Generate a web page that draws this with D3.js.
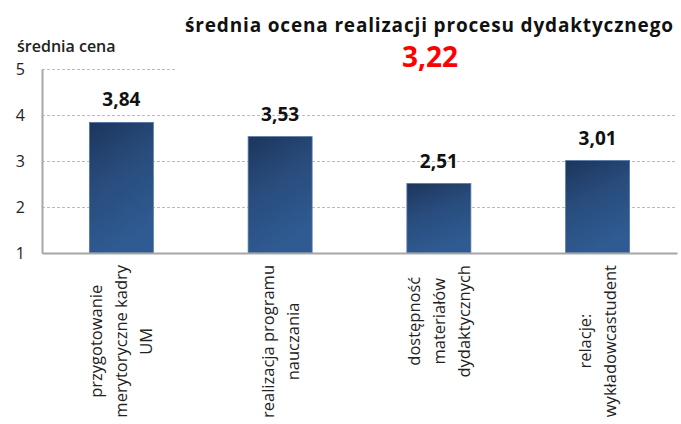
<!DOCTYPE html>
<html>
<head>
<meta charset="utf-8">
<script src="https://cdn.jsdelivr.net/npm/d3@7"></script>
<style>
  body { margin: 0; background: #fff; }
  text { font-family: "Open Sans", sans-serif; }
</style>
</head>
<body>
<svg id="chart" width="681" height="424"></svg>
<script>
// data
var categories = [
  ["przygotowanie", "merytoryczne kadry", "UM"],
  ["realizacja programu", "nauczania"],
  ["dostępność", "materiałów", "dydaktycznych"],
  ["relacje:", "wykładowcastudent"]
];
var values = [3.84, 3.53, 2.51, 3.01];
var yTicks = [1, 2, 3, 4, 5];
var title = "średnia ocena realizacji procesu dydaktycznego";
var overall = "3,22";
var yName = "średnia cena";


var svg = d3.select("#chart");

var mLeft = 42, mRight = 677, mTop = 69, mBottom = 253;

var x = d3.scaleBand()
  .domain(d3.range(values.length))
  .range([mLeft, mRight])
  .paddingInner(0.597)
  .paddingOuter(0.2985);

var y = d3.scaleLinear()
  .domain([1, 5])
  .range([mBottom, mTop]);

var fmt = function(v) { return d3.format(".2f")(v).replace(".", ","); };

/* gradient for bars */
var defs = svg.append("defs");
var grad = defs.append("linearGradient")
  .attr("id", "barGrad")
  .attr("x1", "0").attr("y1", "0")
  .attr("x2", "0.35").attr("y2", "1");
grad.append("stop").attr("offset", "0%").attr("stop-color", "#1c355c");
grad.append("stop").attr("offset", "45%").attr("stop-color", "#284b7b");
grad.append("stop").attr("offset", "100%").attr("stop-color", "#2f5b92");

/* gridlines */
svg.append("g")
  .selectAll("line")
  .data(yTicks.filter(function(d) { return d > 1; }))
  .enter().append("line")
  .attr("x1", mLeft)
  .attr("x2", function(d) { return d === 5 ? 176 : mRight; })
  .attr("y1", function(d) { return y(d) + 0.5; })
  .attr("y2", function(d) { return y(d) + 0.5; })
  .attr("stroke", "#bcbcbc")
  .attr("stroke-width", 1)
  .attr("stroke-dasharray", "3,2");

/* y axis */
var yAxis = svg.append("g")
  .attr("transform", "translate(" + mLeft + ",0)")
  .call(d3.axisLeft(y).tickValues(yTicks).tickSize(0).tickPadding(17).tickFormat(d3.format("d")));
yAxis.select(".domain").attr("stroke", "#a6a6a6").attr("stroke-width", 2);
yAxis.selectAll("text")
  .attr("font-family", "Open Sans, sans-serif")
  .attr("font-size", 16)
  .attr("fill", "#222");

/* bars */
svg.append("g")
  .selectAll("rect")
  .data(values)
  .enter().append("rect")
  .attr("x", function(d, i) { return x(i); })
  .attr("y", function(d) { return y(d); })
  .attr("width", x.bandwidth())
  .attr("height", function(d) { return y(1) - y(d); })
  .attr("fill", "url(#barGrad)")
  .attr("stroke", "#5478a8")
  .attr("stroke-width", 0.8);

/* x axis */
var xAxis = svg.append("g")
  .attr("transform", "translate(0," + mBottom + ")")
  .call(d3.axisBottom(x).tickSize(0).tickFormat(""));
xAxis.select(".domain").attr("stroke", "#a6a6a6").attr("stroke-width", 2);

/* value labels */
svg.append("g")
  .selectAll("text")
  .data(values)
  .enter().append("text")
  .attr("x", function(d, i) { return x(i) + x.bandwidth() / 2; })
  .attr("y", function(d) { return y(d) - 16; })
  .attr("text-anchor", "middle")
  .attr("font-size", 19)
  .attr("font-weight", "bold")
  .attr("fill", "#111")
  .text(fmt);

/* category labels, rotated */
var labelTop = 265, lineGap = 25;
categories.forEach(function(lines, i) {
  var cx = x(i) + x.bandwidth() / 2;
  var g = svg.append("g");
  var texts = lines.map(function(line, j) {
    return g.append("text")
      .attr("text-anchor", "middle")
      .attr("font-size", 16.5)
      .attr("fill", "#222")
      .text(line);
  });
  var maxLen = d3.max(texts, function(t) { return t.node().getComputedTextLength(); });
  var cy = labelTop + maxLen / 2;
  texts.forEach(function(t, j) {
    var lx = cx + (j - (lines.length - 1) / 2) * lineGap + 6;
    t.attr("transform", "translate(" + lx + "," + cy + ") rotate(-90)");
  });
});

/* titles */
svg.append("text")
  .attr("x", 185)
  .attr("y", 32)
  .attr("font-size", 19)
  .attr("font-weight", "bold")
  .attr("fill", "#111")
  .attr("textLength", 488)
  .attr("lengthAdjust", "spacing")
  .text(title);

svg.append("text")
  .attr("x", 430)
  .attr("y", 67)
  .attr("text-anchor", "middle")
  .attr("font-size", 28)
  .attr("font-weight", "bold")
  .attr("fill", "#ff0000")
  .text(overall);

svg.append("text")
  .attr("x", 17)
  .attr("y", 52)
  .attr("font-size", 16)
  .attr("font-weight", 600)
  .attr("fill", "#222")
  .text(yName);
</script>
</body>
</html>
